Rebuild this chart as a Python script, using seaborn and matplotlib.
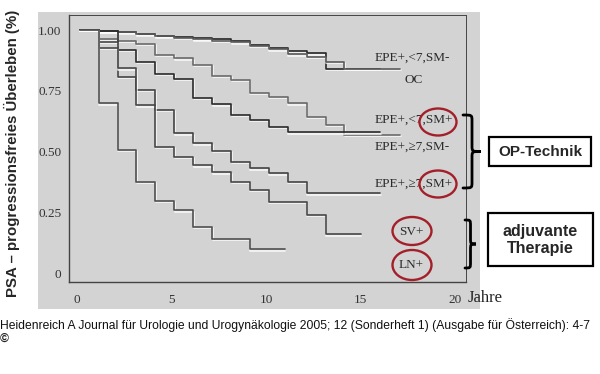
"""
plot.py - PSA progression-free survival by pathological stage (life-table style).
Values read off a scanned figure (Heidenreich 2005).
"""

import matplotlib
matplotlib.use("Agg")
import matplotlib.pyplot as plt
import matplotlib.patheffects as pe
from matplotlib.patches import Rectangle, Ellipse, PathPatch
from matplotlib.path import Path
import pandas as pd
import seaborn as sns

# ── Data ───────────────────────────────────────────────────────────────────
# start of each yearly life-table interval (curves are drawn a little right of 0)
step_years = [0.15, 1.15, 2.15, 3.15, 4.15, 5.15, 6.15, 7.15, 8.15,
              9.15, 10.15, 11.15, 12.15, 13.15, 14.15, 15.15, 16.15]

groups = ["EPE+,<7,SM-", "OC", "EPE+,<7,SM+", "EPE+,≥7,SM-",
          "EPE+,≥7,SM+", "SV+", "LN+"]

surv_epe_lt7_smneg = [1.0, 0.998, 0.993, 0.984, 0.977, 0.971, 0.966, 0.962,
                      0.955, 0.94, 0.928, 0.915, 0.905, 0.84, 0.84, 0.84]
surv_oc = [1.0, 0.995, 0.99, 0.982, 0.975, 0.968, 0.962, 0.957, 0.949,
           0.934, 0.92, 0.9, 0.89, 0.87, 0.84, 0.84, 0.84]
surv_epe_lt7_smpos = [1.0, 0.962, 0.955, 0.944, 0.897, 0.883, 0.858, 0.812,
                      0.794, 0.742, 0.726, 0.698, 0.643, 0.609, 0.568, 0.568, 0.568]
surv_epe_ge7_smneg = [1.0, 0.995, 0.918, 0.87, 0.82, 0.80, 0.72, 0.694,
                      0.65, 0.63, 0.602, 0.579, 0.579, 0.579, 0.579, 0.579]
surv_epe_ge7_smpos = [1.0, 0.952, 0.808, 0.753, 0.671, 0.575, 0.534, 0.502,
                      0.458, 0.431, 0.41, 0.376, 0.328, 0.328, 0.328, 0.328]
surv_sv = [1.0, 0.927, 0.842, 0.691, 0.52, 0.479, 0.444, 0.414, 0.376,
           0.342, 0.293, 0.293, 0.239, 0.159, 0.159]
surv_ln = [1.0, 0.698, 0.506, 0.376, 0.298, 0.258, 0.19, 0.14, 0.14,
           0.097, 0.097]

end_years = [16.05, 17.1, 17.1, 16.05, 16.05, 15.0, 11.0]

curve_colors = ["#262626", "#5a5a5a", "#6a6a6a", "#2a2a2a",
                "#444444", "#474747", "#4f4f4f"]

y_ticks = [0, 0.25, 0.5, 0.75, 1.0]
y_ticklabels = ["0", "0.25", "0.50", "0.75", "1.00"]
x_ticks = [0, 5, 10, 15, 20]

caption = ("Heidenreich A Journal für Urologie und Urogynäkologie 2005; "
           "12 (Sonderheft 1) (Ausgabe für Österreich): 4-7")

# ── Long table for seaborn ─────────────────────────────────────────────────
all_surv = [surv_epe_lt7_smneg, surv_oc, surv_epe_lt7_smpos, surv_epe_ge7_smneg,
            surv_epe_ge7_smpos, surv_sv, surv_ln]
rows = []
for name, vals, t_end in zip(groups, all_surv, end_years):
    times = step_years[:len(vals)] + [t_end]
    for t, v in zip(times, vals + [vals[-1]]):
        rows.append({"Jahre": t, "PFS": v, "Gruppe": name})
df = pd.DataFrame(rows)

# ── Figure ─────────────────────────────────────────────────────────────────
sns.set_style("white")
plt.rcParams["font.family"] = ["Liberation Serif", "DejaVu Serif"]

BG = "#d3d3d3"
W, H = 600, 374
fig = plt.figure(figsize=(W / 100, H / 100), dpi=100)
fig.patch.set_facecolor("white")

# scanned grey panel behind the chart
fig.add_artist(Rectangle((38 / W, 1 - 309 / H), 442 / W, 297 / H,
                         transform=fig.transFigure, facecolor=BG,
                         edgecolor="none", zorder=0))

ax = fig.add_axes([69 / W, 1 - 282 / H, (466 - 69) / W, (282 - 15) / H])
ax.set_facecolor(BG)

shadow = [pe.SimpleLineShadow(offset=(0.4, -1.0), shadow_color="white",
                              alpha=0.8, rho=1.0), pe.Normal()]
sns.lineplot(data=df, x="Jahre", y="PFS", hue="Gruppe", hue_order=groups,
             palette=dict(zip(groups, curve_colors)), drawstyle="steps-post",
             estimator=None, errorbar=None, sort=False, legend=False,
             linewidth=1.2, path_effects=shadow, ax=ax)

ax.set_xlim(-0.42, 20.58)
ax.set_ylim(-0.037, 1.062)
ax.set_xticks(x_ticks)
ax.set_yticks(y_ticks)
ax.set_yticklabels(y_ticklabels)
ax.set_xlabel("")
ax.set_ylabel("")
ax.tick_params(axis="both", direction="out", length=4, width=0.9,
               color="#444444", labelsize=9.5, labelcolor="#333333")
ax.tick_params(axis="x", pad=4.5)
ax.tick_params(axis="y", pad=1.5)
for side, sp in ax.spines.items():
    sp.set_visible(True)
    sp.set_color("#444444")
    sp.set_linewidth(1.0 if side in ("left", "bottom") else 0.7)

# curve labels at the right end of the curves
label_x = [15.77, 17.8, 15.77, 15.77, 15.77, 17.7, 17.7]
label_y = [0.885, 0.794, 0.63, 0.519, 0.366, 0.169, 0.033]
label_ha = ["left", "center", "left", "left", "left", "center", "center"]
for name, lx, ly, ha in zip(groups, label_x, label_y, label_ha):
    ax.text(lx, ly, name, ha=ha, va="center", fontsize=9.5, color="#2a2a2a",
            clip_on=False)

fig.text(468 / W, 1 - 298 / H, "Jahre", ha="left", va="center",
         fontsize=12, color="#222222")

fig.text(12 / W, 1 - 153 / H, "PSA – progressionsfreies Überleben (%)",
         rotation=90, ha="center", va="center", fontsize=10.8,
         fontweight="bold", family=["Liberation Sans", "DejaVu Sans"])

fig.text(0, 1 - 325 / H, caption, ha="left", va="center", fontsize=8.7,
         family=["Liberation Sans", "DejaVu Sans"], color="#111111")
fig.text(0, 1 - 339 / H, "©", ha="left", va="center", fontsize=8.7,
         family=["Liberation Sans", "DejaVu Sans"], fontweight="bold")

# ── Overlay in pixel coords: braces, boxes, red circles ────────────────────
ov = fig.add_axes([0, 0, 1, 1], zorder=5)
ov.set_xlim(0, W)
ov.set_ylim(H, 0)
ov.axis("off")
ov.patch.set_alpha(0)


def brace(x, y0, y1, d):
    h = d / 2
    ym = (y0 + y1) / 2
    r = min(6, (y1 - y0) / 6)
    verts = [(x, y0),
             (x + h, y0), (x + h, y0), (x + h, y0 + r),
             (x + h, ym - r),
             (x + h, ym), (x + h, ym), (x + d, ym),
             (x + h, ym), (x + h, ym), (x + h, ym + r),
             (x + h, y1 - r),
             (x + h, y1), (x + h, y1), (x, y1)]
    codes = [Path.MOVETO,
             Path.CURVE4, Path.CURVE4, Path.CURVE4,
             Path.LINETO,
             Path.CURVE4, Path.CURVE4, Path.CURVE4,
             Path.CURVE4, Path.CURVE4, Path.CURVE4,
             Path.LINETO,
             Path.CURVE4, Path.CURVE4, Path.CURVE4]
    ov.add_patch(PathPatch(Path(verts, codes), facecolor="none",
                           edgecolor="black", lw=2.0, capstyle="round"))


brace(463, 115, 188, 18)
brace(465, 220, 268, 11)

box_font = ["Liberation Sans", "DejaVu Sans"]
ov.add_patch(Rectangle((489, 137), 102, 29, facecolor="white",
                       edgecolor="black", lw=1.6))
ov.text(540, 152, "OP-Technik", ha="center", va="center", fontsize=11,
        fontweight="bold", family=box_font)
ov.add_patch(Rectangle((488, 213), 105, 53, facecolor="white",
                       edgecolor="black", lw=1.6))
ov.text(540.5, 240, "adjuvante\nTherapie", ha="center", va="center",
        fontsize=11.5, fontweight="bold", family=box_font, linespacing=1.25)

for cx, cy, ew, eh in [(438, 122, 37, 27), (438, 184, 37, 27),
                       (412, 231, 39, 28), (412, 265, 39, 30)]:
    ov.add_patch(Ellipse((cx, cy), ew, eh, facecolor="none",
                         edgecolor="#a3202a", lw=1.7))

fig.savefig("out.png", dpi=100, facecolor="white")
plt.close(fig)
